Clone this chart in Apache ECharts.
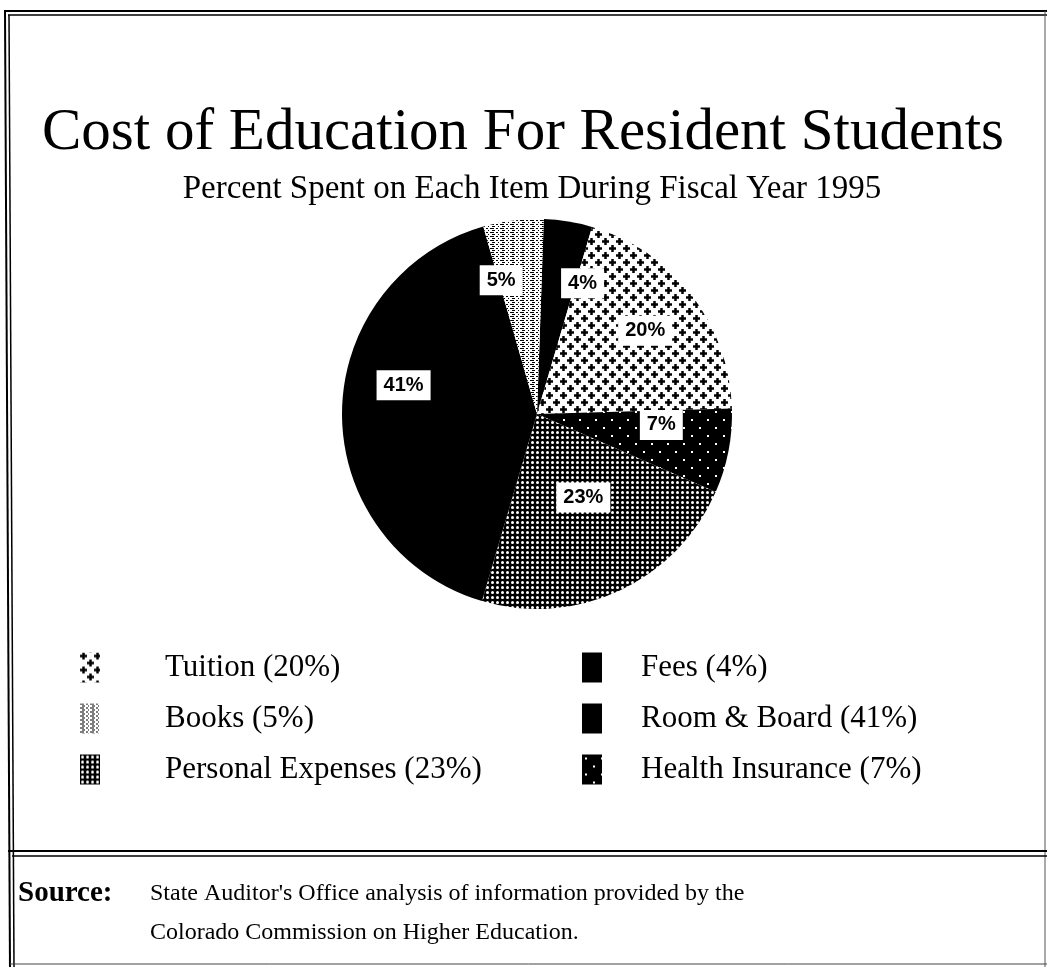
<!DOCTYPE html>
<html><head><meta charset="utf-8">
<script src="https://cdn.jsdelivr.net/npm/echarts@6/dist/echarts.min.js"></script>
<style>html,body{margin:0;padding:0;background:#fff}#c{width:1047px;height:967px}</style>
</head><body><div id="c"></div>
<script>
// ---- data ----
const categories = ['Fees', 'Tuition', 'Health Insurance', 'Personal Expenses', 'Room & Board', 'Books'];
const percentValues = [4, 20, 7, 23, 41, 5];
const legendLeftItems = ['Tuition', 'Books', 'Personal Expenses'];
const legendRightItems = ['Fees', 'Room & Board', 'Health Insurance'];
const titleText = 'Cost of Education For Resident Students';
const subtitleText = 'Percent Spent on Each Item During Fiscal Year 1995';
const sourceLabel = 'Source:';
const sourceLines = ["State Auditor's Office analysis of information provided by the", 'Colorado Commission on Higher Education.'];

// ---- patterns ----
function makeCanvas(w, h, bg) {
  const c = document.createElement('canvas'); c.width = w; c.height = h;
  const ctx = c.getContext('2d'); ctx.fillStyle = bg; ctx.fillRect(0, 0, w, h); return [c, ctx];
}
function tuitionPattern() {
  const [c, ctx] = makeCanvas(14, 14, '#fff'); ctx.fillStyle = '#000';
  [[3.5, 3.5], [10.5, 10.5]].forEach(([x, y]) => {
    ctx.fillRect(x - 3.5, y - 1.25, 7, 2.5); ctx.fillRect(x - 1.25, y - 3.5, 2.5, 7);
  });
  return c;
}
function personalPattern() {
  const [c, ctx] = makeCanvas(5, 5, '#000'); ctx.fillStyle = '#fff';
  ctx.beginPath(); ctx.arc(2.5, 2.5, 1.5, 0, Math.PI * 2); ctx.fill(); return c;
}
function healthPattern() {
  const [c, ctx] = makeCanvas(16, 16, '#000'); ctx.fillStyle = '#fff';
  ctx.fillRect(3, 3, 2, 2); ctx.fillRect(11, 11, 2, 2); return c;
}
function booksPattern() {
  const [c, ctx] = makeCanvas(10, 4, '#fff'); ctx.fillStyle = '#000';
  ctx.fillRect(0, 0, 4, 1); ctx.fillRect(6, 0, 2, 1); ctx.fillRect(2, 2, 3, 1); ctx.fillRect(8, 2, 1, 1);
  return c;
}
const sliceColors = {
  'Fees': '#000',
  'Tuition': { image: tuitionPattern(), repeat: 'repeat' },
  'Health Insurance': { image: healthPattern(), repeat: 'repeat' },
  'Personal Expenses': { image: personalPattern(), repeat: 'repeat' },
  'Room & Board': '#000',
  'Books': { image: booksPattern(), repeat: 'repeat' }
};

// ---- geometry ----
const pieCenter = [537, 414];
const pieRadius = 195;
const startAngle = 88;
const labelRadiusFrac = [0.71, 0.70, 0.64, 0.49, 0.70, 0.71];
const labelAngleShift = [10, 0, -6, -4, 12, -8];
const total = percentValues.reduce((a, b) => a + b, 0);
const midAngles = [];
(function () { let acc = 0; percentValues.forEach(v => { midAngles.push((90 - startAngle) + (acc + v / 2) / total * 360); acc += v; }); })();

const serif = 'Liberation Serif';
const chart = echarts.init(document.getElementById('c'), null, { renderer: 'canvas' });
const valueOf = name => percentValues[categories.indexOf(name)];
const legendBase = {
  orient: 'vertical', itemWidth: 20, itemHeight: 30, itemGap: 20, selectedMode: false, icon: 'rect',
  formatter: name => name + ' (' + valueOf(name) + '%)'
};
chart.setOption({
  animation: false,
  backgroundColor: '#fff',
  title: [
    { text: titleText, left: 518, textAlign: 'center', top: 99, textStyle: { fontFamily: serif, fontSize: 59, fontWeight: 'normal', color: '#000' } },
    { text: subtitleText, left: 527, textAlign: 'center', top: 168, textStyle: { fontFamily: serif, fontSize: 33, fontWeight: 'normal', color: '#000' } }
  ],
  legend: [
    Object.assign({}, legendBase, { left: 75, top: 647, data: legendLeftItems,
      textStyle: { fontFamily: serif, fontSize: 31, color: '#000', padding: [0, 0, 0, 60] } }),
    Object.assign({}, legendBase, { left: 577, top: 647, data: legendRightItems,
      textStyle: { fontFamily: serif, fontSize: 31, color: '#000', padding: [0, 0, 0, 34] } })
  ],
  series: [{
    type: 'pie',
    center: pieCenter,
    radius: pieRadius,
    startAngle: startAngle,
    clockwise: true,
    avoidLabelOverlap: false,
    silent: true,
    itemStyle: { borderWidth: 0 },
    label: {
      show: true, position: 'inside', formatter: '{c}%',
      backgroundColor: '#fff', color: '#000', fontFamily: 'Liberation Sans', fontWeight: 'bold', fontSize: 20,
      padding: [6, 7, 4, 7]
    },
    labelLine: { show: false },
    labelLayout: function (p) {
      const i = p.dataIndex;
      const a = (midAngles[i] + labelAngleShift[i]) * Math.PI / 180;
      const r = labelRadiusFrac[i] * pieRadius;
      return { x: pieCenter[0] + r * Math.sin(a), y: pieCenter[1] - r * Math.cos(a), align: 'center', verticalAlign: 'middle' };
    },
    data: categories.map((n, i) => ({ name: n, value: percentValues[i], itemStyle: { color: sliceColors[n] } }))
  }],
  graphic: [
    { type: 'line', shape: { x1: 4, y1: 11, x2: 1047, y2: 11 }, style: { stroke: '#000', lineWidth: 2 } },
    { type: 'line', shape: { x1: 8, y1: 15, x2: 1047, y2: 15 }, style: { stroke: '#000', lineWidth: 1.5 } },
    { type: 'line', shape: { x1: 5, y1: 11, x2: 10, y2: 967 }, style: { stroke: '#000', lineWidth: 2 } },
    { type: 'line', shape: { x1: 9, y1: 15, x2: 14, y2: 967 }, style: { stroke: '#000', lineWidth: 1.5 } },
    { type: 'line', shape: { x1: 1045, y1: 11, x2: 1045, y2: 967 }, style: { stroke: '#555', lineWidth: 1 } },
    { type: 'line', shape: { x1: 8, y1: 851, x2: 1047, y2: 851 }, style: { stroke: '#000', lineWidth: 2 } },
    { type: 'line', shape: { x1: 12, y1: 856, x2: 1047, y2: 856 }, style: { stroke: '#000', lineWidth: 1.5 } },
    { type: 'line', shape: { x1: 10, y1: 964, x2: 1047, y2: 964 }, style: { stroke: '#444', lineWidth: 1 } },
    { type: 'text', style: { text: sourceLabel, x: 18, y: 894, font: 'bold 29px "Liberation Serif"', fill: '#000', textVerticalAlign: 'middle' } },
    { type: 'text', style: { text: sourceLines[0], x: 150, y: 894, font: '24px "Liberation Serif"', fill: '#000', textVerticalAlign: 'middle' } },
    { type: 'text', style: { text: sourceLines[1], x: 150, y: 933, font: '24px "Liberation Serif"', fill: '#000', textVerticalAlign: 'middle' } }
  ]
});
</script></body></html>
